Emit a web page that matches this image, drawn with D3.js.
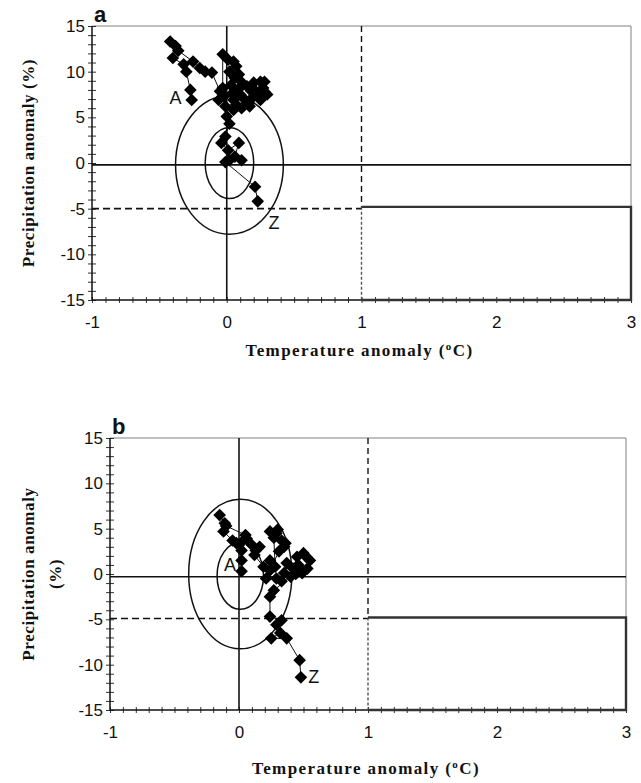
<!DOCTYPE html>
<html>
<head>
<meta charset="utf-8">
<script src="https://cdn.jsdelivr.net/npm/d3@7"></script>
<style>
  body { margin: 0; background: #fff; }
  svg { display: block; }
</style>
</head>
<body>
<svg id="chart" width="641" height="783"></svg>
<script>
// Tick values shared by both panels
const xMajor = [-1, 0, 1, 2, 3];
const yMajor = [15, 10, 5, 0, -5, -10, -15];
const xMinor = d3.range(-10, 31).map((d) => d / 10);
const yMinor = d3.range(-15, 16);

// Trajectory of panel a, from A to Z (temperature °C, precipitation %)
const pathA = [
  [-0.26, 6.9], [-0.27, 8.0], [-0.30, 10.0], [-0.32, 10.8], [-0.40, 11.5],
  [-0.38, 12.8], [-0.42, 13.3], [-0.36, 12.3], [-0.25, 11.1], [-0.20, 10.4],
  [-0.16, 10.0], [-0.11, 9.9], [-0.05, 7.85], [-0.06, 6.9], [-0.01, 6.2],
  [-0.02, 7.3], [-0.03, 8.2], [-0.03, 11.9], [0.01, 11.3], [0.05, 11.1],
  [0.07, 10.6], [0.02, 10.0], [0.09, 9.7], [0.06, 9.3], [0.03, 8.5],
  [0.04, 7.6], [0.05, 6.9], [0.07, 6.4], [0.10, 7.5], [0.08, 8.0],
  [0.10, 9.0], [0.12, 8.6], [0.15, 8.4], [0.20, 8.8], [0.25, 8.9],
  [0.28, 8.9], [0.27, 8.2], [0.28, 7.8], [0.30, 7.5], [0.25, 6.9],
  [0.24, 7.2], [0.22, 7.8], [0.18, 7.9], [0.20, 7.3], [0.16, 6.6],
  [0.13, 7.0], [0.17, 6.2], [0.11, 6.0], [0.05, 5.8], [0.0, 5.1],
  [0.02, 4.3], [-0.01, 2.9], [-0.04, 2.2], [0.01, 1.4], [0.09, 2.2],
  [0.06, 0.7], [0.11, 0.3], [0.02, 0.3], [-0.01, 0.1], [0.21, -2.6],
  [0.23, -4.2]
];

// Trajectory of panel b
const pathB = [
  [0.02, 0.3], [0.02, 1.5], [0.02, 2.6], [-0.02, 3.4], [-0.05, 3.7],
  [-0.12, 4.7], [-0.11, 5.6], [-0.15, 6.5], [-0.10, 5.3], [0.05, 4.3],
  [0.06, 3.9], [0.02, 3.5], [0.10, 3.2], [0.16, 3.0], [0.13, 2.6],
  [0.12, 2.1], [0.19, 0.8], [0.24, 1.5], [0.28, 0.8], [0.27, 4.0],
  [0.24, 4.7], [0.30, 4.9], [0.29, 4.5], [0.33, 3.7], [0.36, 3.4],
  [0.35, 3.0], [0.31, 2.5], [0.24, 0.4], [0.21, -0.5], [0.29, -0.5],
  [0.33, -0.8], [0.35, 0.1], [0.37, 1.2], [0.42, 0.6], [0.45, 1.9],
  [0.50, 2.3], [0.52, 1.9], [0.55, 1.5], [0.53, 0.6], [0.46, 1.0],
  [0.49, 0.1], [0.44, 0.0], [0.40, -0.3], [0.27, -1.8], [0.24, -2.5],
  [0.24, -4.7], [0.33, -5.1], [0.29, -5.6], [0.32, -6.5], [0.25, -7.1],
  [0.37, -7.1], [0.47, -9.5], [0.48, -11.4]
];

// Ellipses: centre x, centre y, radius x, radius y
const ellipsesA = [[0.02, 0, 0.18, 3.9], [0.02, -0.2, 0.4, 7.6]];
const ellipsesB = [[0.01, -0.2, 0.18, 3.7], [0.01, 0, 0.4, 8.25]];

const panels = [
  {
    letter: "a", path: pathA, ellipses: ellipsesA,
    left: 92, right: 631, top: 26, bottom: 300,
    zeroY: -0.2, dashY: -5, boxTop: -4.8,
    labelA: [-0.38, 7.1], labelZ: [0.35, -6.6],
    yTitle: ["Precipitation anomaly (%)"], yTitleX: [28],
    xTitleY: 356
  },
  {
    letter: "b", path: pathB, ellipses: ellipsesB,
    left: 110, right: 626, top: 438, bottom: 710,
    zeroY: -0.3, dashY: -4.9, boxTop: -4.8,
    labelA: [-0.07, 1.0], labelZ: [0.58, -11.4],
    yTitle: ["Precipitation anomaly", "(%)"], yTitleX: [28, 55],
    xTitleY: 774
  }
];

const svg = d3.select("#chart");
const sans = "Liberation Sans, Arial, sans-serif";
const serif = "Liberation Serif, Times New Roman, serif";
const fmt = (d) => String(d);

panels.forEach((p) => {
  const x = d3.scaleLinear().domain([-1, 3]).range([p.left, p.right]);
  const y = d3.scaleLinear().domain([-15, 15]).range([p.bottom, p.top]);
  const g = svg.append("g");

  // frame: grey top and right borders
  g.append("path")
    .attr("d", `M${x(-1)},${y(15)}H${x(3)}V${y(-15)}`)
    .attr("fill", "none").attr("stroke", "#808080").attr("stroke-width", 1);

  // crossing minor ticks
  const tickStyle = (sel) => {
    sel.select(".domain").remove();
    sel.selectAll("text").remove();
    sel.selectAll("line").attr("stroke", "#333");
  };
  g.append("g").attr("transform", `translate(${p.left},0)`)
    .call(d3.axisLeft(y).tickValues(yMinor).tickSize(4)).call(tickStyle);
  g.append("g").attr("transform", `translate(${p.left},0)`)
    .call(d3.axisRight(y).tickValues(yMinor).tickSize(4)).call(tickStyle);
  g.append("g").attr("transform", `translate(0,${p.bottom})`)
    .call(d3.axisBottom(x).tickValues(xMinor).tickSize(3)).call(tickStyle);
  g.append("g").attr("transform", `translate(0,${p.bottom})`)
    .call(d3.axisTop(x).tickValues(xMinor).tickSize(3)).call(tickStyle);

  // tick labels
  const yAxis = g.append("g").attr("transform", `translate(${p.left},0)`)
    .call(d3.axisLeft(y).tickValues(yMajor).tickFormat(fmt).tickSize(0).tickPadding(7));
  yAxis.select(".domain").remove();
  yAxis.selectAll("text").attr("font-family", sans).attr("font-size", 17).attr("fill", "#111");
  const xAxis = g.append("g").attr("transform", `translate(0,${p.bottom})`)
    .call(d3.axisBottom(x).tickValues(xMajor).tickFormat(fmt).tickSize(0).tickPadding(16));
  xAxis.select(".domain").remove();
  xAxis.selectAll("text").attr("font-family", sans).attr("font-size", 17).attr("fill", "#111");

  // axis lines
  g.append("line").attr("x1", x(-1)).attr("x2", x(-1)).attr("y1", y(15)).attr("y2", y(-15))
    .attr("stroke", "#111").attr("stroke-width", 1.5);
  g.append("line").attr("x1", x(-1)).attr("x2", x(3)).attr("y1", y(-15)).attr("y2", y(-15))
    .attr("stroke", "#111").attr("stroke-width", 1.5);

  // zero cross lines
  g.append("line").attr("x1", x(-1)).attr("x2", x(3)).attr("y1", y(p.zeroY)).attr("y2", y(p.zeroY))
    .attr("stroke", "#111").attr("stroke-width", 1.6);
  g.append("line").attr("x1", x(0)).attr("x2", x(0)).attr("y1", y(15)).attr("y2", y(-15))
    .attr("stroke", "#111").attr("stroke-width", 1.6);

  // dashed thresholds
  g.append("line").attr("x1", x(-1)).attr("x2", x(1)).attr("y1", y(p.dashY)).attr("y2", y(p.dashY))
    .attr("stroke", "#111").attr("stroke-width", 1.6).attr("stroke-dasharray", "7,4");
  g.append("line").attr("x1", x(1)).attr("x2", x(1)).attr("y1", y(15)).attr("y2", y(p.boxTop))
    .attr("stroke", "#111").attr("stroke-width", 1.4).attr("stroke-dasharray", "6,4");

  // threshold box (T > 1, P < -5)
  g.append("line").attr("x1", x(1)).attr("x2", x(1)).attr("y1", y(p.boxTop)).attr("y2", y(-15))
    .attr("stroke", "#555").attr("stroke-width", 1.4).attr("stroke-dasharray", "3,2");
  g.append("path")
    .attr("d", `M${x(1)},${y(p.boxTop)}H${x(3)}V${y(-15)}H${x(1)}`)
    .attr("fill", "none").attr("stroke", "#333").attr("stroke-width", 2.4);

  // ellipses
  g.selectAll(".ell").data(p.ellipses).join("ellipse")
    .attr("cx", (d) => x(d[0])).attr("cy", (d) => y(d[1]))
    .attr("rx", (d) => x(d[0] + d[2]) - x(d[0]))
    .attr("ry", (d) => y(d[1] - d[3]) - y(d[1]))
    .attr("fill", "none").attr("stroke", "#111").attr("stroke-width", 1.5);

  // trajectory
  g.append("path").datum(p.path)
    .attr("d", d3.line().x((d) => x(d[0])).y((d) => y(d[1])))
    .attr("fill", "none").attr("stroke", "#111").attr("stroke-width", 1);
  const diamond = d3.symbol(d3.symbolSquare, 80);
  g.selectAll(".pt").data(p.path).join("path")
    .attr("d", diamond)
    .attr("transform", (d) => `translate(${x(d[0])},${y(d[1])}) rotate(45)`)
    .attr("fill", "#000");

  // A / Z labels
  [["A", p.labelA], ["Z", p.labelZ]].forEach(([t, pos]) => {
    g.append("text").attr("x", x(pos[0])).attr("y", y(pos[1]))
      .attr("text-anchor", "middle").attr("dominant-baseline", "central")
      .attr("font-family", sans).attr("font-size", 18).attr("fill", "#111").text(t);
  });

  // panel letter
  g.append("text").attr("x", p.left + 2).attr("y", p.top - 4)
    .attr("font-family", sans).attr("font-weight", "bold").attr("font-size", 22)
    .attr("fill", "#111").text(p.letter);

  // axis titles
  const midY = (y(15) + y(-15)) / 2;
  p.yTitle.forEach((t, i) => {
    g.append("text")
      .attr("transform", `translate(${p.yTitleX[i]},${midY}) rotate(-90)`)
      .attr("text-anchor", "middle").attr("dominant-baseline", "central")
      .attr("font-family", serif).attr("font-weight", "bold").attr("font-size", 17)
      .attr("letter-spacing", 0.6).attr("fill", "#111").text(t);
  });
  const xt = g.append("text").attr("x", (x(-1) + x(3)) / 2 - 2).attr("y", p.xTitleY)
    .attr("text-anchor", "middle")
    .attr("font-family", serif).attr("font-weight", "bold").attr("font-size", 17)
    .attr("letter-spacing", 1.4).attr("fill", "#111");
  xt.append("tspan").text("Temperature anomaly (");
  xt.append("tspan").attr("font-size", 11).attr("dy", -6).text("o");
  xt.append("tspan").attr("dy", 6).text("C)");
});
</script>
</body>
</html>
